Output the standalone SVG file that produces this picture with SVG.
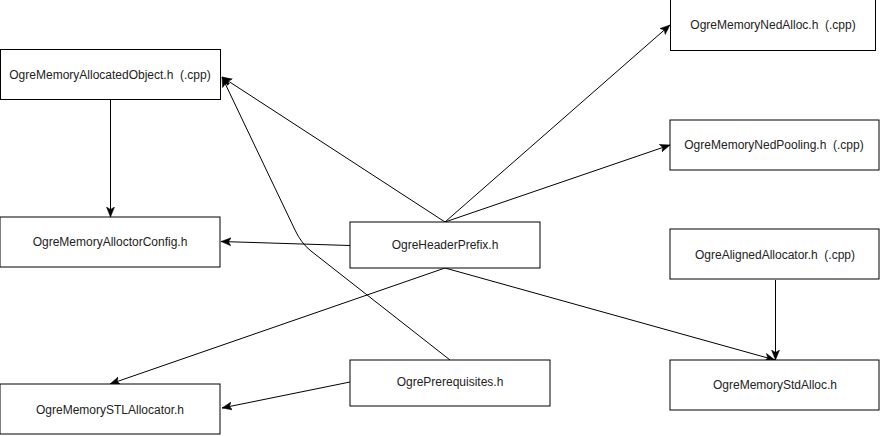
<svg xmlns="http://www.w3.org/2000/svg" width="888" height="436" viewBox="0 0 888 436">
  <defs>
    <marker id="arr" markerUnits="userSpaceOnUse" markerWidth="11" markerHeight="9" refX="10" refY="4.5" orient="auto" viewBox="0 0 11 9">
      <path d="M0,0.5 L10,4.5 L0,8.5 L2.5,4.5 z" fill="#000" stroke="#000" stroke-width="0.5"/>
    </marker>
    <style>
      rect.n { fill: #fff; stroke: #000; stroke-width: 1; }
      text.t { font-family: "Liberation Sans", Arial, sans-serif; font-size: 12px; fill: #222; text-anchor: middle; dominant-baseline: central; white-space: pre; }
      .e { fill: none; stroke: #000; stroke-width: 1; marker-end: url(#arr); }
    </style>
  </defs>
  <rect width="888" height="436" fill="#fff"/>
  <g id="connectors">
    <path class="e" d="M110.5,99 L110.5,217"/>
    <path class="e" d="M350,245.5 L221,241.5"/>
    <path class="e" d="M445,222 L222,77"/>
    <path class="e" d="M445,222 L670,25"/>
    <path class="e" d="M445,222 L670,145"/>
    <path class="e" d="M445,268 L110,384"/>
    <path class="e" d="M445,268 L775,360"/>
    <path class="e" d="M450,360 L311,251 Q301,243 295,230 L222,77"/>
    <path class="e" d="M350,382 L222,408"/>
    <path class="e" d="M775.5,280 L775.5,360"/>
  </g>
  <g id="n-allocatedobject">
    <rect class="n" x="0.5" y="49.5" width="220" height="50"/>
    <text class="t" x="110" y="75" xml:space="preserve">OgreMemoryAllocatedObject.h  (.cpp)</text>
  </g>
  <g id="n-nedalloc">
    <rect class="n" x="670.5" y="-0.5" width="205" height="51"/>
    <text class="t" x="773" y="25" xml:space="preserve">OgreMemoryNedAlloc.h  (.cpp)</text>
  </g>
  <g id="n-nedpooling">
    <rect class="n" x="670" y="120" width="209" height="50"/>
    <text class="t" x="774" y="145" xml:space="preserve">OgreMemoryNedPooling.h  (.cpp)</text>
  </g>
  <g id="n-alloctorconfig">
    <rect class="n" x="0" y="217" width="220" height="50"/>
    <text class="t" x="110" y="242">OgreMemoryAlloctorConfig.h</text>
  </g>
  <g id="n-headerprefix">
    <rect class="n" x="350" y="222" width="190" height="46"/>
    <text class="t" x="445" y="245">OgreHeaderPrefix.h</text>
  </g>
  <g id="n-alignedallocator">
    <rect class="n" x="670" y="229" width="209" height="50"/>
    <text class="t" x="775" y="255" xml:space="preserve">OgreAlignedAllocator.h  (.cpp)</text>
  </g>
  <g id="n-prerequisites">
    <rect class="n" x="350" y="360" width="200" height="46"/>
    <text class="t" x="450" y="382">OgrePrerequisites.h</text>
  </g>
  <g id="n-stdalloc">
    <rect class="n" x="670" y="360" width="209" height="50"/>
    <text class="t" x="775" y="385">OgreMemoryStdAlloc.h</text>
  </g>
  <g id="n-stlallocator">
    <rect class="n" x="0" y="384" width="220" height="50"/>
    <text class="t" x="110" y="410">OgreMemorySTLAllocator.h</text>
  </g>
</svg>
